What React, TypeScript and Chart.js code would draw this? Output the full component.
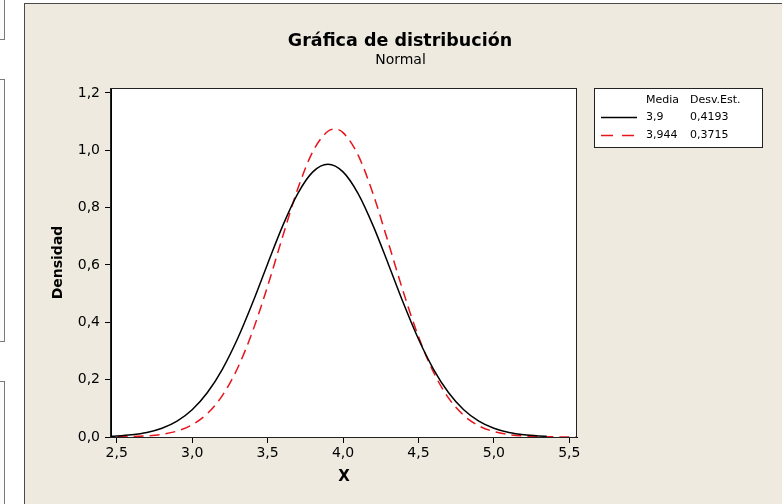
import { useEffect, useRef } from "react";
import { Chart, registerables } from "chart.js";

Chart.register(...registerables);

// ---- data ----
const xBlack = [2.4, 2.5, 2.6, 2.7, 2.8, 2.9, 3.0, 3.1, 3.2, 3.3, 3.4, 3.5, 3.6, 3.7, 3.8, 3.9, 4.0, 4.1, 4.2, 4.3, 4.4, 4.5, 4.6, 4.7, 4.8, 4.9, 5.0, 5.1, 5.2, 5.3, 5.35];
const yBlack = [0.0016, 0.0036, 0.0078, 0.0159, 0.0305, 0.0554, 0.095, 0.1542, 0.2363, 0.3418, 0.4674, 0.6037, 0.7366, 0.8492, 0.9249, 0.9515, 0.9249, 0.8492, 0.7366, 0.6037, 0.4674, 0.3418, 0.2363, 0.1542, 0.095, 0.0554, 0.0305, 0.0159, 0.0078, 0.0036, 0.0024];

const xRed = [2.4, 2.5, 2.6, 2.7, 2.8, 2.9, 3.0, 3.1, 3.2, 3.3, 3.4, 3.5, 3.6, 3.7, 3.8, 3.9, 3.95, 4.0, 4.1, 4.2, 4.3, 4.4, 4.5, 4.6, 4.7, 4.8, 4.9, 5.0, 5.1, 5.2, 5.3, 5.4, 5.5, 5.6];
const yRed = [0.0002, 0.0006, 0.0015, 0.0039, 0.0094, 0.0207, 0.0426, 0.0813, 0.1445, 0.2391, 0.3676, 0.5259, 0.6995, 0.8656, 0.9961, 1.0664, 1.0738, 1.0618, 0.9833, 0.8469, 0.6785, 0.5056, 0.3504, 0.2259, 0.1354, 0.0755, 0.0392, 0.0189, 0.0085, 0.0035, 0.0014, 0.0005, 0.0002, 0.0001];

const xTicks = [2.5, 3.0, 3.5, 4.0, 4.5, 5.0, 5.5];
const yTicks = [0.0, 0.2, 0.4, 0.6, 0.8, 1.0, 1.2];

const legendHeaders = ["Media", "Desv.Est."];
const legendMeans = ["3,9", "3,944"];
const legendSds = ["0,4193", "0,3715"];

const titleText = "Gráfica de distribución";
const subtitleText = "Normal";
const xTitle = "X";
const yTitle = "Densidad";

const FONT = "'DejaVu Sans', Verdana, sans-serif";

const fmt = (v: number) => v.toFixed(1).replace(".", ",");

const framePlugin = {
  id: "frame",
  beforeDraw(chart: any) {
    const ctx = chart.ctx as CanvasRenderingContext2D;
    const W = chart.width;
    const H = chart.height;
    ctx.save();
    ctx.fillStyle = "#ffffff";
    ctx.fillRect(0, 0, W, H);
    // partial neighbouring boxes on the far left
    ctx.strokeStyle = "#7a7a7a";
    ctx.lineWidth = 1;
    ctx.fillStyle = "#fbfbfb";
    const boxes = [
      [-10, 39],
      [79, 341],
      [381, 520],
    ];
    for (const [t, b] of boxes) {
      ctx.fillRect(-10, t, 14.5, b - t);
      ctx.strokeRect(-10, t + 0.5, 14.5, b - t);
    }
    // main panel
    ctx.fillStyle = "#eeeae0";
    ctx.fillRect(24.5, 3.5, W, H);
    ctx.strokeStyle = "#4a4a4a";
    ctx.strokeRect(24.5, 3.5, W + 10, H + 10);
    // plot area
    const a = chart.chartArea;
    ctx.fillStyle = "#ffffff";
    ctx.fillRect(a.left, a.top, a.right - a.left, a.bottom - a.top);
    ctx.restore();
  },
  afterDraw(chart: any) {
    const ctx = chart.ctx as CanvasRenderingContext2D;
    const a = chart.chartArea;
    ctx.save();
    ctx.strokeStyle = "#222";
    ctx.lineWidth = 1;
    ctx.strokeRect(Math.round(a.left) - 0.5, Math.round(a.top) + 0.5, Math.round(a.right - a.left), Math.round(a.bottom - a.top));

    // titles
    ctx.fillStyle = "#000";
    ctx.textAlign = "center";
    ctx.textBaseline = "alphabetic";
    ctx.font = `bold 17.5px ${FONT}`;
    ctx.fillText(titleText, 400, 45.5);
    ctx.font = `14px ${FONT}`;
    ctx.fillText(subtitleText, 400.5, 64);

    // legend table
    const lx = 594.5, ly = 88.5, lw = 168, lh = 59;
    ctx.fillStyle = "#fff";
    ctx.fillRect(lx, ly, lw, lh);
    ctx.strokeStyle = "#222";
    ctx.strokeRect(lx, ly, lw, lh);
    ctx.font = `11px ${FONT}`;
    ctx.fillStyle = "#000";
    ctx.textAlign = "left";
    ctx.textBaseline = "middle";
    ctx.fillText(legendHeaders[0], 646, 100);
    ctx.fillText(legendHeaders[1], 690, 100);
    const rows = [
      { y: 117.5, color: "#000", dash: [] as number[] },
      { y: 135.5, color: "#e8141c", dash: [12, 9] },
    ];
    rows.forEach((r, i) => {
      ctx.strokeStyle = r.color;
      ctx.lineWidth = 1.3;
      ctx.setLineDash(r.dash);
      ctx.beginPath();
      ctx.moveTo(601, r.y);
      ctx.lineTo(637, r.y);
      ctx.stroke();
      ctx.setLineDash([]);
      ctx.fillStyle = "#000";
      ctx.fillText(legendMeans[i], 646, r.y);
      ctx.fillText(legendSds[i], 690, r.y);
    });
    ctx.restore();
  },
};

export default function App() {
  const ref = useRef<HTMLCanvasElement>(null);

  useEffect(() => {
    if (!ref.current) return;
    const chart = new Chart(ref.current, {
      type: "line",
      data: {
        datasets: [
          {
            label: "3,9 / 0,4193",
            data: xBlack.map((x, i) => ({ x, y: yBlack[i] })),
            borderColor: "#000000",
            borderWidth: 1.5,
            pointRadius: 0,
            cubicInterpolationMode: "monotone",
            fill: false,
          },
          {
            label: "3,944 / 0,3715",
            data: xRed.map((x, i) => ({ x, y: yRed[i] })),
            borderColor: "#e8141c",
            borderWidth: 1.5,
            borderDash: [10, 6],
            pointRadius: 0,
            cubicInterpolationMode: "monotone",
            fill: false,
          },
        ],
      },
      options: {
        responsive: false,
        animation: false,
        devicePixelRatio: 1,
        layout: { padding: { left: 24, top: 88, right: 205, bottom: 7 } },
        plugins: {
          legend: { display: false },
          title: { display: false },
          tooltip: { enabled: false },
        },
        scales: {
          x: {
            type: "linear",
            min: 2.462,
            max: 5.551,
            afterBuildTicks: (s: any) => {
              s.ticks = xTicks.map((v) => ({ value: v }));
            },
            afterFit: (s: any) => {
              s.height = 60;
            },
            grid: { drawOnChartArea: false, tickLength: 6, color: "#000", tickColor: "#000" },
            border: { display: true, color: "#000" },
            ticks: {
              color: "#000",
              padding: 2,
              maxRotation: 0,
              autoSkip: false,
              font: { family: FONT, size: 14 },
              callback: (v: any) => fmt(Number(v)),
            },
            title: {
              display: true,
              text: xTitle,
              color: "#000",
              font: { family: FONT, size: 15, weight: "bold" },
              padding: { top: 0, bottom: 11 },
            },
          },
          y: {
            type: "linear",
            min: 0,
            max: 1.2174,
            afterBuildTicks: (s: any) => {
              s.ticks = yTicks.map((v) => ({ value: v }));
            },
            afterFit: (s: any) => {
              s.width = 87;
            },
            grid: { drawOnChartArea: false, tickLength: 6, color: "#000", tickColor: "#000" },
            border: { display: true, color: "#000" },
            ticks: {
              color: "#000",
              padding: 5,
              autoSkip: false,
              font: { family: FONT, size: 14 },
              callback: (v: any) => fmt(Number(v)),
            },
            title: {
              display: true,
              text: yTitle,
              color: "#000",
              font: { family: FONT, size: 14, weight: "bold" },
              padding: { top: 25.6, bottom: 0 },
            },
          },
        },
      },
      plugins: [framePlugin],
    } as any);
    return () => chart.destroy();
  }, []);

  return (
    <canvas
      ref={ref}
      width={782}
      height={504}
      style={{ position: "fixed", left: 0, top: 0, width: 782, height: 504, display: "block" }}
    />
  );
}
